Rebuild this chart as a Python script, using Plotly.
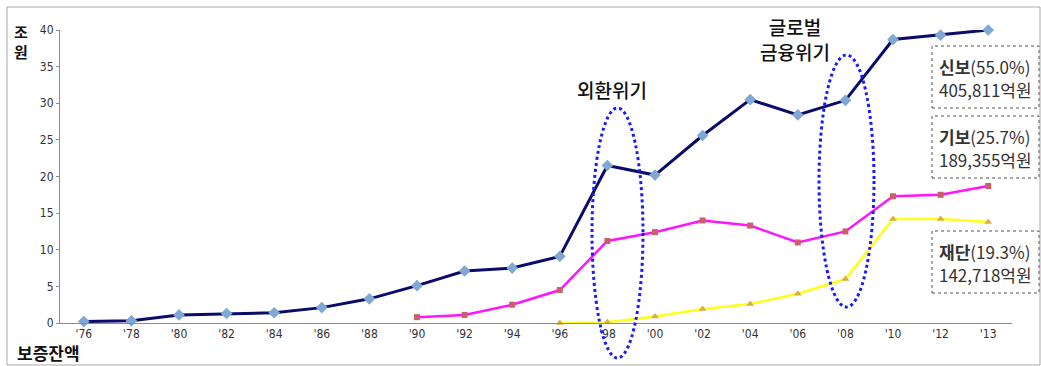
import plotly.graph_objects as go

# ---- data ----
years = ["'76", "'78", "'80", "'82", "'84", "'86", "'88", "'90", "'92", "'94",
         "'96", "'98", "'00", "'02", "'04", "'06", "'08", "'10", "'12", "'13"]
sinbo = [0.2, 0.3, 1.1, 1.3, 1.4, 2.1, 3.3, 5.1, 7.1, 7.5,
         9.1, 21.5, 20.2, 25.6, 30.5, 28.4, 30.4, 38.7, 39.3, 40.0]
gibo = [None, None, None, None, None, None, None, 0.8, 1.1, 2.5,
        4.5, 11.2, 12.4, 14.0, 13.3, 11.0, 12.5, 17.3, 17.5, 18.7]
jaedan = [None, None, None, None, None, None, None, None, None, None,
          0.0, 0.1, 0.9, 1.9, 2.6, 4.0, 6.0, 14.2, 14.2, 13.8]
y_ticks = [0, 5, 10, 15, 20, 25, 30, 35, 40]
box_names = ["신보", "기보", "재단"]
box_shares = ["55.0%", "25.7%", "19.3%"]
box_amounts = ["405,811억원", "189,355억원", "142,718억원"]
crisis_labels = ["외환위기", "글로벌<br>금융위기"]

# ---- geometry helpers (pixels -> paper) ----
W, H = 1041, 366
ML, MR, MT, MB = 60, 29, 30, 43
PW, PH = W - ML - MR, H - MT - MB
def px(x):
    return (x - ML) / PW
def py(y):
    return (H - MB - y) / PH

KR = "Noto Sans CJK KR"
TICKFONT = dict(family="Liberation Sans Narrow, Arial Narrow, DejaVu Sans Condensed, sans-serif",
                size=12, color="#333333")

fig = go.Figure()
fig.add_trace(go.Scatter(x=years, y=sinbo, mode="lines+markers",
                         line=dict(color="#0b0b6b", width=3),
                         marker=dict(symbol="diamond", size=9, color="#7fa8d2"),
                         cliponaxis=False, connectgaps=False, showlegend=False))
fig.add_trace(go.Scatter(x=years, y=gibo, mode="lines+markers",
                         line=dict(color="#ff14ff", width=2.5),
                         marker=dict(symbol="square", size=6, color="#c8606a"),
                         cliponaxis=False, connectgaps=False, showlegend=False))
fig.add_trace(go.Scatter(x=years, y=jaedan, mode="lines+markers",
                         line=dict(color="#ffff1a", width=2.5),
                         marker=dict(symbol="triangle-up", size=7, color="#d6b040"),
                         cliponaxis=False, connectgaps=False, showlegend=False))

shapes = []
# outer frame
shapes.append(dict(type="rect", xref="paper", yref="paper",
                   x0=px(7), x1=px(1040), y0=py(365), y1=py(7),
                   line=dict(color="#a8a8a8", width=1), layer="below"))
# crisis ellipses
shapes.append(dict(type="circle", xref="paper", yref="paper",
                   x0=px(592), x1=px(643), y0=py(358), y1=py(108),
                   line=dict(color="#1a1aff", width=3, dash="dot")))
shapes.append(dict(type="circle", xref="paper", yref="paper",
                   x0=px(819), x1=px(874), y0=py(307), y1=py(55),
                   line=dict(color="#1a1aff", width=3, dash="dot")))
# info boxes
box_tops = [46, 116, 231]
annotations = []
for i, top in enumerate(box_tops):
    shapes.append(dict(type="rect", xref="paper", yref="paper",
                       x0=px(932), x1=px(1039), y0=py(top + 62), y1=py(top),
                       line=dict(color="#555555", width=1, dash="dot")))
    annotations.append(dict(
        xref="paper", yref="paper", x=px(937), y=py(top + 20),
        xanchor="left", yanchor="middle", showarrow=False, align="left",
        text=f"<b>{box_names[i]}</b>({box_shares[i]})",
        font=dict(family=KR, size=17, color="#333333")))
    annotations.append(dict(
        xref="paper", yref="paper", x=px(937), y=py(top + 43),
        xanchor="left", yanchor="middle", showarrow=False, align="left",
        text=box_amounts[i],
        font=dict(family=KR, size=17, color="#333333")))

annotations += [
    dict(xref="paper", yref="paper", x=px(612), y=py(89), text=crisis_labels[0],
         showarrow=False, xanchor="center", yanchor="middle",
         font=dict(family=KR, size=19, color="#111111", weight=500)),
    dict(xref="paper", yref="paper", x=px(795), y=py(39), text=crisis_labels[1],
         showarrow=False, xanchor="center", yanchor="middle", align="center",
         font=dict(family=KR, size=19, color="#111111", weight=500)),
    dict(xref="paper", yref="paper", x=px(21), y=py(41), text="<b>조<br>원</b>",
         showarrow=False, xanchor="center", yanchor="middle",
         font=dict(family=KR, size=15, color="#111111")),
    dict(xref="paper", yref="paper", x=px(15), y=py(352), text="<b>보증잔액</b>",
         showarrow=False, xanchor="left", yanchor="middle",
         font=dict(family=KR, size=17, color="#111111")),
]

fig.update_layout(
    width=W, height=H,
    margin=dict(l=ML, r=MR, t=MT, b=MB),
    paper_bgcolor="white", plot_bgcolor="white",
    shapes=shapes, annotations=annotations,
    xaxis=dict(type="category", showgrid=False, zeroline=False,
               showline=True, linecolor="#8c8c8c", linewidth=1,
               ticks="", tickfont=TICKFONT,
               range=[-0.5, len(years) - 0.5]),
    yaxis=dict(range=[0, 40], tickvals=y_ticks, showgrid=False, zeroline=False,
               showline=True, linecolor="#8c8c8c", linewidth=1,
               ticks="outside", ticklen=3, tickcolor="#8c8c8c",
               tickfont=TICKFONT),
)

fig.write_html("out.html")
